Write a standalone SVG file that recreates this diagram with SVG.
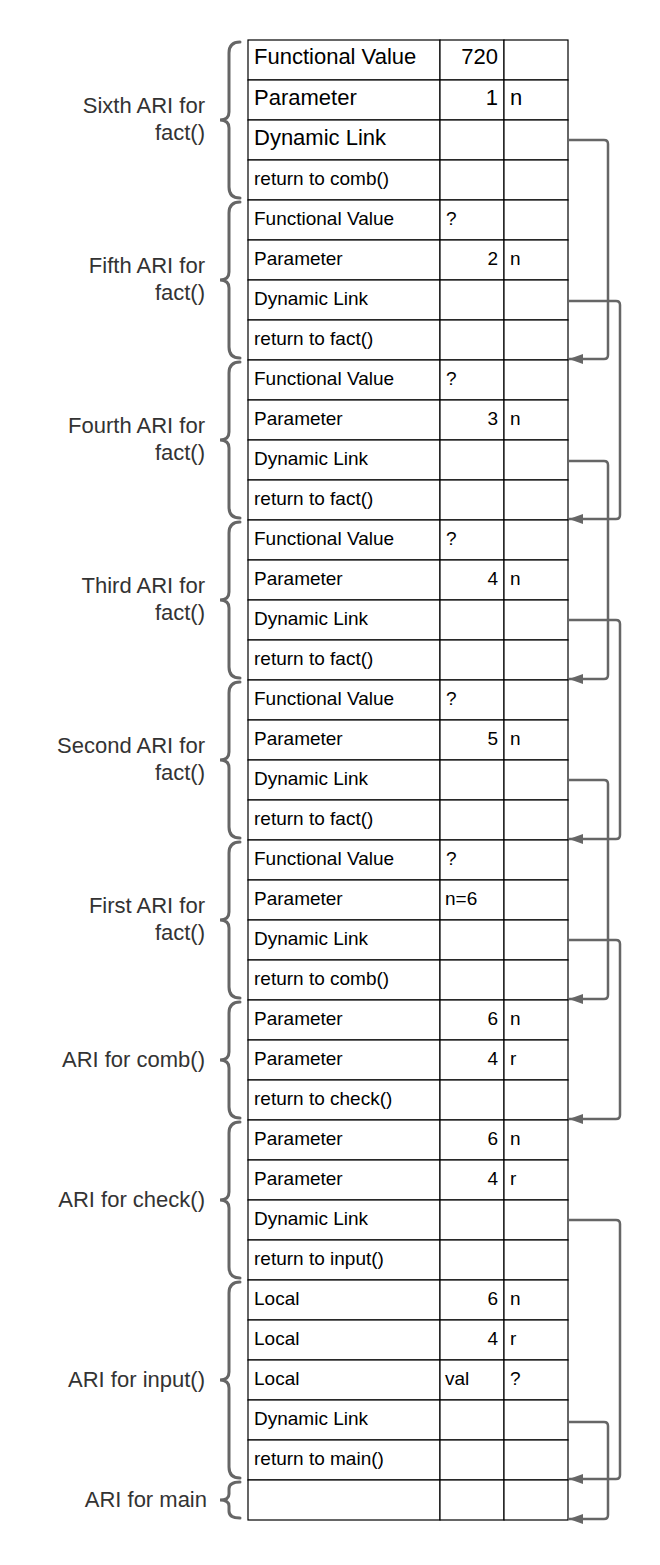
<svg xmlns="http://www.w3.org/2000/svg" width="660" height="1565" viewBox="0 0 660 1565">
<style>
.bg{fill:#fff}
.cell{fill:#fff;stroke:#000;stroke-width:1.2}
.t{font-family:"Liberation Sans",Arial,sans-serif;font-size:19px;fill:#000}
.tl{font-family:"Liberation Sans",Arial,sans-serif;font-size:22px;fill:#000}
.r{text-anchor:end}
.lab{font-family:"Liberation Sans",Arial,sans-serif;font-size:22px;fill:#333;text-anchor:end}
.brace{fill:none;stroke:#666;stroke-width:3;stroke-linecap:round}
.conn{fill:none;stroke:#666;stroke-width:2.5}
</style>
<defs>
<marker id="ah" markerUnits="userSpaceOnUse" viewBox="0 0 14 10" refX="14" refY="5" markerWidth="14" markerHeight="10" orient="auto">
<path d="M0 0 L14 5 L0 10 z" fill="#666"/>
</marker>
</defs>
<rect class="bg" x="0" y="0" width="660" height="1565"/>

<g id="sixth-ari">
<path class="brace" d="M240 42 Q229 42 229 53 L229 112 Q229 120 220 120 Q229 120 229 128 L229 187 Q229 198 240 198"/>
<text class="lab" x="205" y="113">Sixth ARI for</text>
<text class="lab" x="205" y="140">fact()</text>
<rect class="cell" x="248" y="40" width="192" height="40"/><rect class="cell" x="440" y="40" width="64" height="40"/><rect class="cell" x="504" y="40" width="64" height="40"/>
<text class="tl" x="254" y="64">Functional Value</text><text class="tl r" x="498" y="64">720</text>
<rect class="cell" x="248" y="80" width="192" height="40"/><rect class="cell" x="440" y="80" width="64" height="40"/><rect class="cell" x="504" y="80" width="64" height="40"/>
<text class="tl" x="254" y="105">Parameter</text><text class="tl r" x="498" y="105">1</text><text class="tl" x="510" y="105">n</text>
<rect class="cell" x="248" y="120" width="192" height="40"/><rect class="cell" x="440" y="120" width="64" height="40"/><rect class="cell" x="504" y="120" width="64" height="40"/>
<text class="tl" x="254" y="145">Dynamic Link</text>
<rect class="cell" x="248" y="160" width="192" height="40"/><rect class="cell" x="440" y="160" width="64" height="40"/><rect class="cell" x="504" y="160" width="64" height="40"/>
<text class="t" x="254" y="185">return to comb()</text>
</g>

<g id="fifth-ari">
<path class="brace" d="M240 202 Q229 202 229 213 L229 272 Q229 280 220 280 Q229 280 229 288 L229 347 Q229 358 240 358"/>
<text class="lab" x="205" y="273">Fifth ARI for</text>
<text class="lab" x="205" y="300">fact()</text>
<rect class="cell" x="248" y="200" width="192" height="40"/><rect class="cell" x="440" y="200" width="64" height="40"/><rect class="cell" x="504" y="200" width="64" height="40"/>
<text class="t" x="254" y="225">Functional Value</text><text class="t" x="446" y="225">?</text>
<rect class="cell" x="248" y="240" width="192" height="40"/><rect class="cell" x="440" y="240" width="64" height="40"/><rect class="cell" x="504" y="240" width="64" height="40"/>
<text class="t" x="254" y="265">Parameter</text><text class="t r" x="498" y="265">2</text><text class="t" x="510" y="265">n</text>
<rect class="cell" x="248" y="280" width="192" height="40"/><rect class="cell" x="440" y="280" width="64" height="40"/><rect class="cell" x="504" y="280" width="64" height="40"/>
<text class="t" x="254" y="305">Dynamic Link</text>
<rect class="cell" x="248" y="320" width="192" height="40"/><rect class="cell" x="440" y="320" width="64" height="40"/><rect class="cell" x="504" y="320" width="64" height="40"/>
<text class="t" x="254" y="345">return to fact()</text>
</g>

<g id="fourth-ari">
<path class="brace" d="M240 362 Q229 362 229 373 L229 432 Q229 440 220 440 Q229 440 229 448 L229 507 Q229 518 240 518"/>
<text class="lab" x="205" y="433">Fourth ARI for</text>
<text class="lab" x="205" y="460">fact()</text>
<rect class="cell" x="248" y="360" width="192" height="40"/><rect class="cell" x="440" y="360" width="64" height="40"/><rect class="cell" x="504" y="360" width="64" height="40"/>
<text class="t" x="254" y="385">Functional Value</text><text class="t" x="446" y="385">?</text>
<rect class="cell" x="248" y="400" width="192" height="40"/><rect class="cell" x="440" y="400" width="64" height="40"/><rect class="cell" x="504" y="400" width="64" height="40"/>
<text class="t" x="254" y="425">Parameter</text><text class="t r" x="498" y="425">3</text><text class="t" x="510" y="425">n</text>
<rect class="cell" x="248" y="440" width="192" height="40"/><rect class="cell" x="440" y="440" width="64" height="40"/><rect class="cell" x="504" y="440" width="64" height="40"/>
<text class="t" x="254" y="465">Dynamic Link</text>
<rect class="cell" x="248" y="480" width="192" height="40"/><rect class="cell" x="440" y="480" width="64" height="40"/><rect class="cell" x="504" y="480" width="64" height="40"/>
<text class="t" x="254" y="505">return to fact()</text>
</g>

<g id="third-ari">
<path class="brace" d="M240 522 Q229 522 229 533 L229 592 Q229 600 220 600 Q229 600 229 608 L229 667 Q229 678 240 678"/>
<text class="lab" x="205" y="593">Third ARI for</text>
<text class="lab" x="205" y="620">fact()</text>
<rect class="cell" x="248" y="520" width="192" height="40"/><rect class="cell" x="440" y="520" width="64" height="40"/><rect class="cell" x="504" y="520" width="64" height="40"/>
<text class="t" x="254" y="545">Functional Value</text><text class="t" x="446" y="545">?</text>
<rect class="cell" x="248" y="560" width="192" height="40"/><rect class="cell" x="440" y="560" width="64" height="40"/><rect class="cell" x="504" y="560" width="64" height="40"/>
<text class="t" x="254" y="585">Parameter</text><text class="t r" x="498" y="585">4</text><text class="t" x="510" y="585">n</text>
<rect class="cell" x="248" y="600" width="192" height="40"/><rect class="cell" x="440" y="600" width="64" height="40"/><rect class="cell" x="504" y="600" width="64" height="40"/>
<text class="t" x="254" y="625">Dynamic Link</text>
<rect class="cell" x="248" y="640" width="192" height="40"/><rect class="cell" x="440" y="640" width="64" height="40"/><rect class="cell" x="504" y="640" width="64" height="40"/>
<text class="t" x="254" y="665">return to fact()</text>
</g>

<g id="second-ari">
<path class="brace" d="M240 682 Q229 682 229 693 L229 752 Q229 760 220 760 Q229 760 229 768 L229 827 Q229 838 240 838"/>
<text class="lab" x="205" y="753">Second ARI for</text>
<text class="lab" x="205" y="780">fact()</text>
<rect class="cell" x="248" y="680" width="192" height="40"/><rect class="cell" x="440" y="680" width="64" height="40"/><rect class="cell" x="504" y="680" width="64" height="40"/>
<text class="t" x="254" y="705">Functional Value</text><text class="t" x="446" y="705">?</text>
<rect class="cell" x="248" y="720" width="192" height="40"/><rect class="cell" x="440" y="720" width="64" height="40"/><rect class="cell" x="504" y="720" width="64" height="40"/>
<text class="t" x="254" y="745">Parameter</text><text class="t r" x="498" y="745">5</text><text class="t" x="510" y="745">n</text>
<rect class="cell" x="248" y="760" width="192" height="40"/><rect class="cell" x="440" y="760" width="64" height="40"/><rect class="cell" x="504" y="760" width="64" height="40"/>
<text class="t" x="254" y="785">Dynamic Link</text>
<rect class="cell" x="248" y="800" width="192" height="40"/><rect class="cell" x="440" y="800" width="64" height="40"/><rect class="cell" x="504" y="800" width="64" height="40"/>
<text class="t" x="254" y="825">return to fact()</text>
</g>

<g id="first-ari">
<path class="brace" d="M240 842 Q229 842 229 853 L229 912 Q229 920 220 920 Q229 920 229 928 L229 987 Q229 998 240 998"/>
<text class="lab" x="205" y="913">First ARI for</text>
<text class="lab" x="205" y="940">fact()</text>
<rect class="cell" x="248" y="840" width="192" height="40"/><rect class="cell" x="440" y="840" width="64" height="40"/><rect class="cell" x="504" y="840" width="64" height="40"/>
<text class="t" x="254" y="865">Functional Value</text><text class="t" x="446" y="865">?</text>
<rect class="cell" x="248" y="880" width="192" height="40"/><rect class="cell" x="440" y="880" width="64" height="40"/><rect class="cell" x="504" y="880" width="64" height="40"/>
<text class="t" x="254" y="905">Parameter</text><text class="t" x="445" y="905">n=6</text>
<rect class="cell" x="248" y="920" width="192" height="40"/><rect class="cell" x="440" y="920" width="64" height="40"/><rect class="cell" x="504" y="920" width="64" height="40"/>
<text class="t" x="254" y="945">Dynamic Link</text>
<rect class="cell" x="248" y="960" width="192" height="40"/><rect class="cell" x="440" y="960" width="64" height="40"/><rect class="cell" x="504" y="960" width="64" height="40"/>
<text class="t" x="254" y="985">return to comb()</text>
</g>

<g id="comb-ari">
<path class="brace" d="M240 1002 Q229 1002 229 1013 L229 1052 Q229 1060 220 1060 Q229 1060 229 1068 L229 1107 Q229 1118 240 1118"/>
<text class="lab" x="205" y="1067">ARI for comb()</text>
<rect class="cell" x="248" y="1000" width="192" height="40"/><rect class="cell" x="440" y="1000" width="64" height="40"/><rect class="cell" x="504" y="1000" width="64" height="40"/>
<text class="t" x="254" y="1025">Parameter</text><text class="t r" x="498" y="1025">6</text><text class="t" x="510" y="1025">n</text>
<rect class="cell" x="248" y="1040" width="192" height="40"/><rect class="cell" x="440" y="1040" width="64" height="40"/><rect class="cell" x="504" y="1040" width="64" height="40"/>
<text class="t" x="254" y="1065">Parameter</text><text class="t r" x="498" y="1065">4</text><text class="t" x="510" y="1065">r</text>
<rect class="cell" x="248" y="1080" width="192" height="40"/><rect class="cell" x="440" y="1080" width="64" height="40"/><rect class="cell" x="504" y="1080" width="64" height="40"/>
<text class="t" x="254" y="1105">return to check()</text>
</g>

<g id="check-ari">
<path class="brace" d="M240 1122 Q229 1122 229 1133 L229 1192 Q229 1200 220 1200 Q229 1200 229 1208 L229 1267 Q229 1278 240 1278"/>
<text class="lab" x="205" y="1207">ARI for check()</text>
<rect class="cell" x="248" y="1120" width="192" height="40"/><rect class="cell" x="440" y="1120" width="64" height="40"/><rect class="cell" x="504" y="1120" width="64" height="40"/>
<text class="t" x="254" y="1145">Parameter</text><text class="t r" x="498" y="1145">6</text><text class="t" x="510" y="1145">n</text>
<rect class="cell" x="248" y="1160" width="192" height="40"/><rect class="cell" x="440" y="1160" width="64" height="40"/><rect class="cell" x="504" y="1160" width="64" height="40"/>
<text class="t" x="254" y="1185">Parameter</text><text class="t r" x="498" y="1185">4</text><text class="t" x="510" y="1185">r</text>
<rect class="cell" x="248" y="1200" width="192" height="40"/><rect class="cell" x="440" y="1200" width="64" height="40"/><rect class="cell" x="504" y="1200" width="64" height="40"/>
<text class="t" x="254" y="1225">Dynamic Link</text>
<rect class="cell" x="248" y="1240" width="192" height="40"/><rect class="cell" x="440" y="1240" width="64" height="40"/><rect class="cell" x="504" y="1240" width="64" height="40"/>
<text class="t" x="254" y="1265">return to input()</text>
</g>

<g id="input-ari">
<path class="brace" d="M240 1282 Q229 1282 229 1293 L229 1372 Q229 1380 220 1380 Q229 1380 229 1388 L229 1467 Q229 1478 240 1478"/>
<text class="lab" x="205" y="1387">ARI for input()</text>
<rect class="cell" x="248" y="1280" width="192" height="40"/><rect class="cell" x="440" y="1280" width="64" height="40"/><rect class="cell" x="504" y="1280" width="64" height="40"/>
<text class="t" x="254" y="1305">Local</text><text class="t r" x="498" y="1305">6</text><text class="t" x="510" y="1305">n</text>
<rect class="cell" x="248" y="1320" width="192" height="40"/><rect class="cell" x="440" y="1320" width="64" height="40"/><rect class="cell" x="504" y="1320" width="64" height="40"/>
<text class="t" x="254" y="1345">Local</text><text class="t r" x="498" y="1345">4</text><text class="t" x="510" y="1345">r</text>
<rect class="cell" x="248" y="1360" width="192" height="40"/><rect class="cell" x="440" y="1360" width="64" height="40"/><rect class="cell" x="504" y="1360" width="64" height="40"/>
<text class="t" x="254" y="1385">Local</text><text class="t" x="445" y="1385">val</text><text class="t" x="510" y="1385">?</text>
<rect class="cell" x="248" y="1400" width="192" height="40"/><rect class="cell" x="440" y="1400" width="64" height="40"/><rect class="cell" x="504" y="1400" width="64" height="40"/>
<text class="t" x="254" y="1425">Dynamic Link</text>
<rect class="cell" x="248" y="1440" width="192" height="40"/><rect class="cell" x="440" y="1440" width="64" height="40"/><rect class="cell" x="504" y="1440" width="64" height="40"/>
<text class="t" x="254" y="1465">return to main()</text>
</g>

<g id="main-ari">
<path class="brace" d="M240 1482 Q229 1482 229 1489 L229 1494 Q229 1500 220 1500 Q229 1500 229 1506 L229 1511 Q229 1518 240 1518"/>
<text class="lab" x="207" y="1507">ARI for main</text>
<rect class="cell" x="248" y="1480" width="192" height="40"/><rect class="cell" x="440" y="1480" width="64" height="40"/><rect class="cell" x="504" y="1480" width="64" height="40"/>
</g>

<g id="connectors">
<path class="conn" marker-end="url(#ah)" d="M568 140 H604 Q608 140 608 144 V355 Q608 359 604 359 H569"/>
<path class="conn" marker-end="url(#ah)" d="M568 301 H616 Q620 301 620 305 V515 Q620 519 616 519 H569"/>
<path class="conn" marker-end="url(#ah)" d="M568 461 H604 Q608 461 608 465 V675 Q608 679 604 679 H569"/>
<path class="conn" marker-end="url(#ah)" d="M568 620 H616 Q620 620 620 624 V835 Q620 839 616 839 H569"/>
<path class="conn" marker-end="url(#ah)" d="M568 780 H604 Q608 780 608 784 V995 Q608 999 604 999 H569"/>
<path class="conn" marker-end="url(#ah)" d="M568 940 H616 Q620 940 620 944 V1115 Q620 1119 616 1119 H569"/>
<path class="conn" marker-end="url(#ah)" d="M568 1220 H616 Q620 1220 620 1224 V1475 Q620 1479 616 1479 H569"/>
<path class="conn" marker-end="url(#ah)" d="M568 1422 H604 Q608 1422 608 1426 V1515 Q608 1519 604 1519 H569"/>
</g>
</svg>
